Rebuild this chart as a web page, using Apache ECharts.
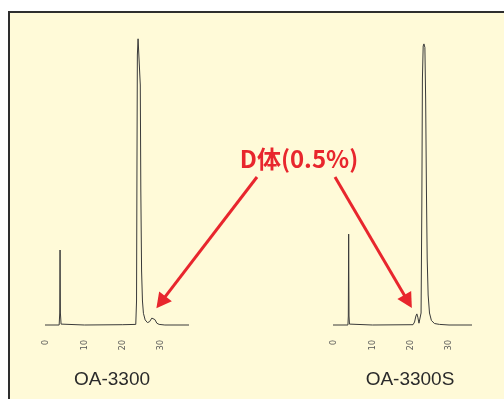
<!DOCTYPE html>
<html>
<head>
<meta charset="utf-8">
<script src="https://cdn.jsdelivr.net/npm/echarts@6/dist/echarts.min.js"></script>
<style>
    html, body { margin: 0; padding: 0; background: #fff; }
    #main { width: 504px; height: 399px; }
</style>
</head>
<body>
<div id="main"></div>
<script>
var tickValues = [0, 10, 20, 30];
var sampleNames = ['OA-3300', 'OA-3300S'];
var impurityLabel = 'D体(0.5%)';

// [保持時間(min), 信号] 図から読み取り
var traceOA3300 = [
    [-0.3, 0], [3.4, 0], [3.55, 4], [3.63, 25], [3.72, 4], [3.9, 0.3], [4.3, 0],
    [10, 0], [20, 0.1], [23.4, 0.2],
    [23.6, 8], [23.72, 55], [23.82, 90], [24.0, 95.4], [24.2, 95.7], [24.4, 95],
    [24.58, 80], [24.72, 45], [24.92, 18], [25.15, 8], [25.4, 3.9], [25.85, 1.7],
    [26.45, 0.8], [27.0, 1.1], [27.6, 2.3], [28.0, 2.6], [28.4, 1.8], [28.9, 0.6],
    [29.5, 0.2], [31, 0], [37.3, 0]
];
var traceOA3300S = [
    [-0.3, 0], [3.6, 0], [3.7, 3], [3.79, 30.3], [3.88, 3], [4.0, 0.3], [4.4, 0],
    [10, 0], [20.6, 0.1],
    [21.0, 1.0], [21.35, 3], [21.6, 3.7], [21.85, 2.6], [22.15, 0.6], [22.45, 0.5],
    [22.7, 4], [22.9, 40], [23.05, 82], [23.25, 93], [23.45, 93.7], [23.7, 92.5],
    [23.9, 75], [24.1, 45], [24.3, 22], [24.55, 10], [24.9, 4], [25.4, 1.5],
    [26.2, 0.5], [27.5, 0.2], [30, 0], [36.0, 0]
];
// D体ピークの頂点
var dPeakOA3300 = [28.0, 2.6];
var dPeakOA3300S = [21.6, 3.7];

var red = '#e8262d';
var myChart = echarts.init(document.getElementById('main'));

function makeXAxis(idx, max) {
    return {
        type: 'value',
        gridIndex: idx,
        min: -0.3,
        max: max,
        splitLine: { show: false },
        axisLine: { show: false },
        axisTick: { show: false },
        axisLabel: {
            customValues: tickValues,
            rotate: 90,
            margin: 15,
            fontSize: 8,
            color: '#555',
            fontFamily: 'DejaVu Sans'
        }
    };
}

function makeYAxis(idx) {
    return { type: 'value', gridIndex: idx, min: 0, max: 100, show: false };
}

var option = {
    backgroundColor: '#fff',
    animation: false,
    grid: [
        { left: 45, top: 25, width: 144, height: 300 },
        { left: 333, top: 25, width: 139, height: 300 }
    ],
    xAxis: [makeXAxis(0, 37.3), makeXAxis(1, 36.0)],
    yAxis: [makeYAxis(0), makeYAxis(1)],
    series: [
        {
            type: 'line', xAxisIndex: 0, yAxisIndex: 0, data: traceOA3300,
            showSymbol: false, clip: false, z: 5,
            lineStyle: { color: '#3a3a3a', width: 1 }
        },
        {
            type: 'line', xAxisIndex: 1, yAxisIndex: 1, data: traceOA3300S,
            showSymbol: false, clip: false, z: 5,
            lineStyle: { color: '#3a3a3a', width: 1 }
        }
    ]
};
myChart.setOption(option);

// 矢印（先端はD体ピークから少し離す）
function arrow(from, tip) {
    var dx = tip[0] - from[0], dy = tip[1] - from[1];
    var len = Math.sqrt(dx * dx + dy * dy);
    var ux = dx / len, uy = dy / len;
    var headLen = 15, headW = 8;
    var bx = tip[0] - ux * headLen, by = tip[1] - uy * headLen;
    return [
        {
            type: 'line', z: 10,
            shape: { x1: from[0], y1: from[1], x2: bx + ux * 2, y2: by + uy * 2 },
            style: { stroke: red, lineWidth: 3 }
        },
        {
            type: 'polygon', z: 10,
            shape: { points: [tip, [bx - uy * headW, by + ux * headW], [bx + uy * headW, by - ux * headW]] },
            style: { fill: red }
        }
    ];
}

var p1 = myChart.convertToPixel({ gridIndex: 0 }, dPeakOA3300);
var p2 = myChart.convertToPixel({ gridIndex: 1 }, dPeakOA3300S);
var tip1 = [p1[0] + 3, p1[1] - 9];
var tip2 = [p2[0] - 5, p2[1] - 6];

var graphics = [
    {
        type: 'rect', z: -10, silent: true,
        shape: { x: 9, y: 12, width: 520, height: 420 },
        style: { fill: '#fffad8', stroke: '#2e2e2e', lineWidth: 2 }
    },
    {
        type: 'text', z: 10, x: 299, y: 159,
        style: {
            text: impurityLabel, fill: red, align: 'center', verticalAlign: 'middle',
            font: 'bold 24px "Noto Sans CJK JP"'
        }
    },
    {
        type: 'text', x: 112, y: 380,
        style: {
            text: sampleNames[0], fill: '#2a2a2a', align: 'center', verticalAlign: 'middle',
            font: '19px "Liberation Sans"'
        }
    },
    {
        type: 'text', x: 410, y: 380,
        style: {
            text: sampleNames[1], fill: '#2a2a2a', align: 'center', verticalAlign: 'middle',
            font: '19px "Liberation Sans"'
        }
    }
].concat(arrow([257, 177], tip1)).concat(arrow([335, 177], tip2));

myChart.setOption({ graphic: graphics });
</script>
</body>
</html>
